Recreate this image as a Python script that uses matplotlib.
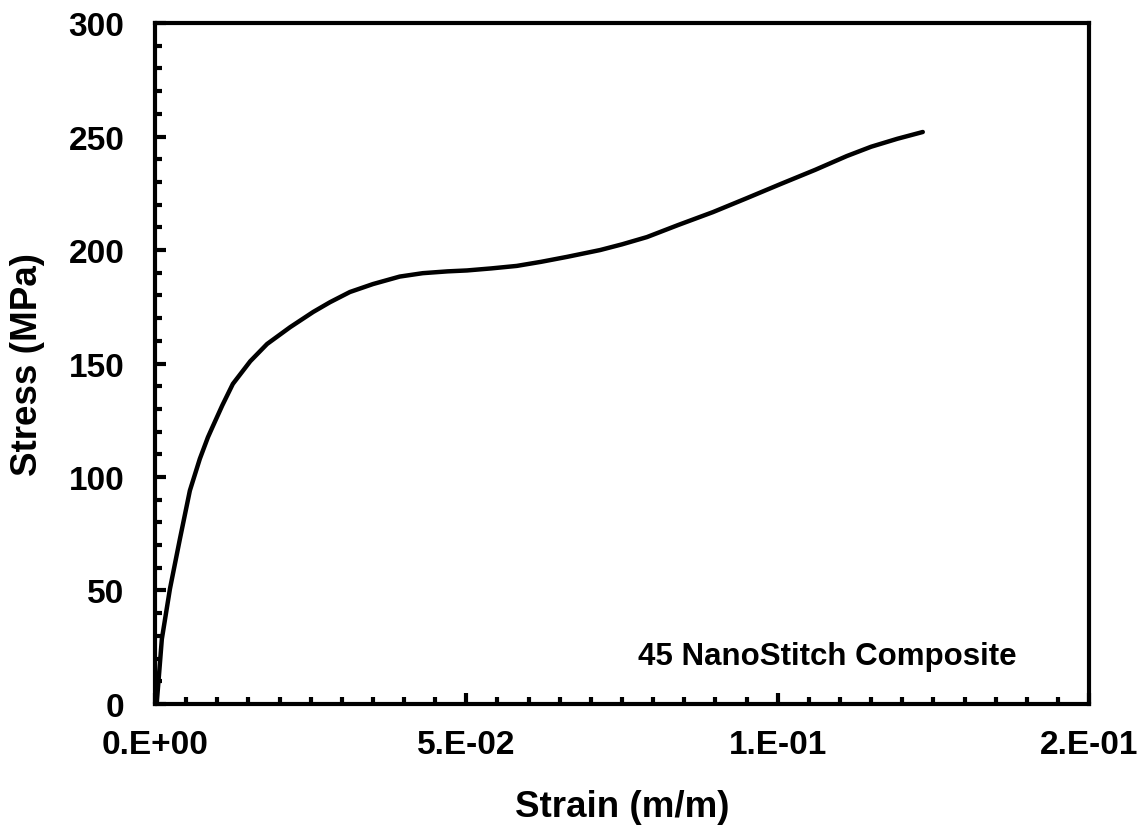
import numpy as np
import matplotlib.pyplot as plt
from matplotlib.ticker import MultipleLocator, FixedLocator, FixedFormatter

plt.rcParams['font.family'] = ['Liberation Sans', 'DejaVu Sans']
plt.rcParams['font.weight'] = 'bold'

# stress-strain curve
strain = [0.0, 0.0003, 0.0011, 0.0024, 0.0040, 0.0056, 0.0072, 0.0085,
          0.0092, 0.0108, 0.0125, 0.0153, 0.0180, 0.0217, 0.0254, 0.0281,
          0.0313, 0.0350, 0.0393, 0.0430, 0.0470, 0.0501, 0.0540, 0.0581,
          0.0620, 0.0662, 0.0715, 0.0750, 0.0790, 0.0840, 0.0896, 0.0950,
          0.1004, 0.1060, 0.1111, 0.1150, 0.1192, 0.1233]
stress = [0.0, 1.0, 28.6, 50.7, 72.7, 94.0, 108.0, 117.5,
          121.8, 131.5, 141.0, 151.0, 158.6, 166.0, 172.7, 177.0,
          181.5, 185.0, 188.3, 189.8, 190.6, 191.0, 191.9, 193.0,
          194.8, 197.0, 200.0, 202.5, 205.7, 211.0, 216.7, 222.8,
          229.0, 235.3, 241.4, 245.5, 249.0, 252.0]

x_ticks = [0.0, 0.05, 0.10, 0.15]
x_tick_labels = ['0.E+00', '5.E-02', '1.E-01', '2.E-01']
y_ticks = [0, 50, 100, 150, 200, 250, 300]

fig = plt.figure(figsize=(11.43, 8.29), dpi=100)
ax = fig.add_axes([0.1356, 0.1496, 0.8172, 0.8214])

ax.plot(strain, stress, color='black', lw=3.2,
        solid_capstyle='round', solid_joinstyle='round')

ax.set_xlim(0, 0.15)
ax.set_ylim(0, 300)
ax.xaxis.set_major_locator(FixedLocator(x_ticks))
ax.xaxis.set_major_formatter(FixedFormatter(x_tick_labels))
ax.xaxis.set_minor_locator(MultipleLocator(0.005))
ax.yaxis.set_major_locator(FixedLocator(y_ticks))
ax.yaxis.set_minor_locator(MultipleLocator(10))

for s in ax.spines.values():
    s.set_linewidth(3)
ax.tick_params(which='both', direction='in', width=3, top=False, right=False)
ax.tick_params(which='major', length=8, labelsize=24)
ax.tick_params(axis='x', which='major', pad=18)
ax.tick_params(axis='y', which='major', pad=22)
ax.tick_params(which='minor', length=5)

ax.set_xlabel('Strain (m/m)', fontsize=26.5, fontweight='bold')
ax.set_ylabel('Stress (MPa)', fontsize=26.5, fontweight='bold')
ax.xaxis.set_label_coords(0.5, -0.125)
ax.yaxis.set_label_coords(-0.118, 0.5)

ax.text(0.72, 0.07, '45 NanoStitch Composite', transform=ax.transAxes,
        ha='center', va='center', fontsize=22.5, fontweight='bold')

fig.savefig('out.png', dpi=100)
